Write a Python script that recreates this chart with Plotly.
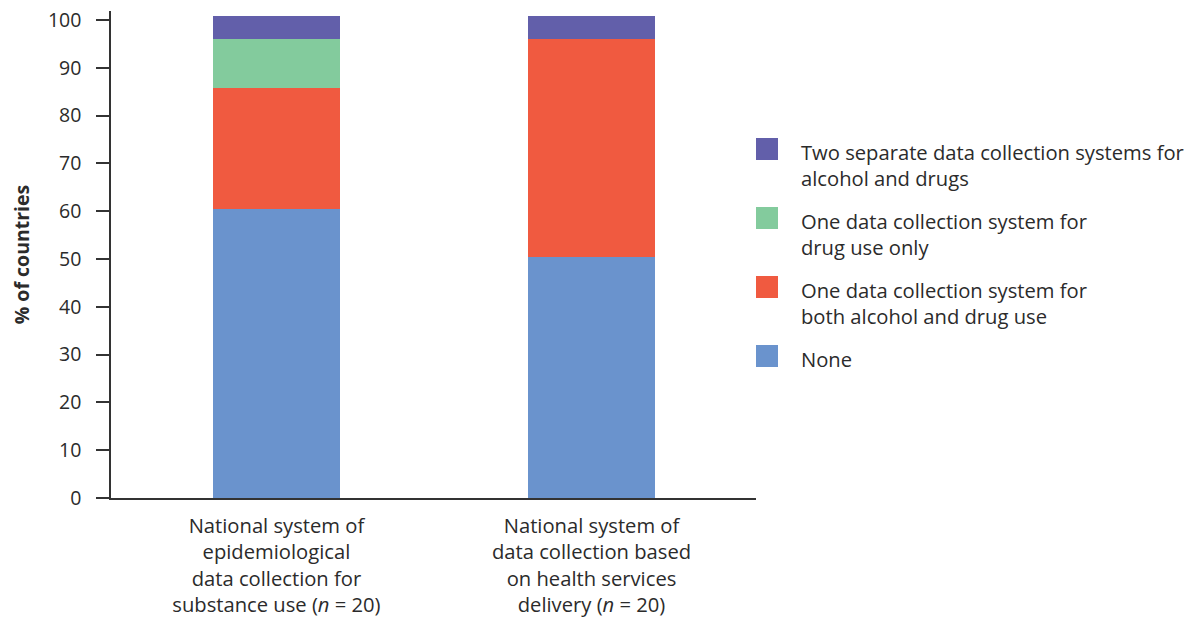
import plotly.graph_objects as go

categories = [
    "National system of<br>epidemiological<br>data collection for<br>substance use (<i>n</i> = 20)",
    "National system of<br>data collection based<br>on health services<br>delivery (<i>n</i> = 20)",
]
series_names = [
    "None",
    "One data collection system for<br>both alcohol and drug use",
    "One data collection system for<br>drug use only",
    "Two separate data collection systems for<br>alcohol and drugs",
]
none_vals = [60.5, 50.4]
both_vals = [25.3, 45.6]
drug_only_vals = [10.2, 0]
two_sep_vals = [4.8, 4.8]
series_values = [none_vals, both_vals, drug_only_vals, two_sep_vals]
colors = ["#6A93CD", "#F05A40", "#83CB9D", "#625FAA"]
y_ticks = list(range(0, 101, 10))

FONT = "Open Sans"
TXT = "#2b2b2b"
FS = 20.2

fig = go.Figure()
for name, vals, col in zip(series_names, series_values, colors):
    fig.add_trace(go.Bar(x=categories, y=vals, name=name, marker_color=col,
                         marker_line_width=0, width=0.403, showlegend=False))

W, H = 1199, 620
pl, pt = 111, 11
pr = W - 756
pb = H - 498
pw, ph = W - pl - pr, H - pt - pb


def px_x(x):
    return (x - pl) / pw


def px_y(y):
    return 1 - (y - pt) / ph


# manual legend (top item first)
leg_tops = [138, 207, 276, 345]
for i, (name, col) in enumerate(zip(series_names[::-1], colors[::-1])):
    top = leg_tops[i]
    fig.add_shape(type="rect", xref="paper", yref="paper", x0=px_x(756), x1=px_x(778),
                  y0=px_y(top + 22), y1=px_y(top), fillcolor=col, line_width=0)
    fig.add_annotation(xref="paper", yref="paper", x=px_x(799), y=px_y(top - 2),
                       xanchor="left", yanchor="top", align="left", showarrow=False,
                       text=name, font=dict(family=FONT, size=FS, color=TXT))

fig.update_layout(
    barmode="stack",
    width=W, height=H,
    margin=dict(l=pl, r=pr, t=pt, b=pb, autoexpand=False),
    plot_bgcolor="white", paper_bgcolor="white",
    font=dict(family=FONT, size=FS, color=TXT),
)
fig.update_xaxes(range=[-0.525, 1.522], showline=True, linecolor="#333", linewidth=1.5,
                 ticks="", showgrid=False, zeroline=False, ticklabelstandoff=9,
                 tickfont=dict(family=FONT, size=FS, color=TXT))
fig.update_yaxes(range=[0, 101.9], tickvals=y_ticks, showline=True, linecolor="#333",
                 linewidth=1.5, ticks="outside", ticklen=13, tickwidth=1.5, tickcolor="#333",
                 showgrid=False, zeroline=False, ticklabelstandoff=11, ticklabeloverflow="allow",
                 tickfont=dict(family=FONT, size=19.5, color=TXT),
                 title=dict(text="<b>% of countries</b>", standoff=13,
                            font=dict(family=FONT, size=19.5, color=TXT)))

fig.write_html("out.html", config={"displayModeBar": False},
               post_script="document.body.style.margin='0px';document.body.style.overflow='hidden';")
